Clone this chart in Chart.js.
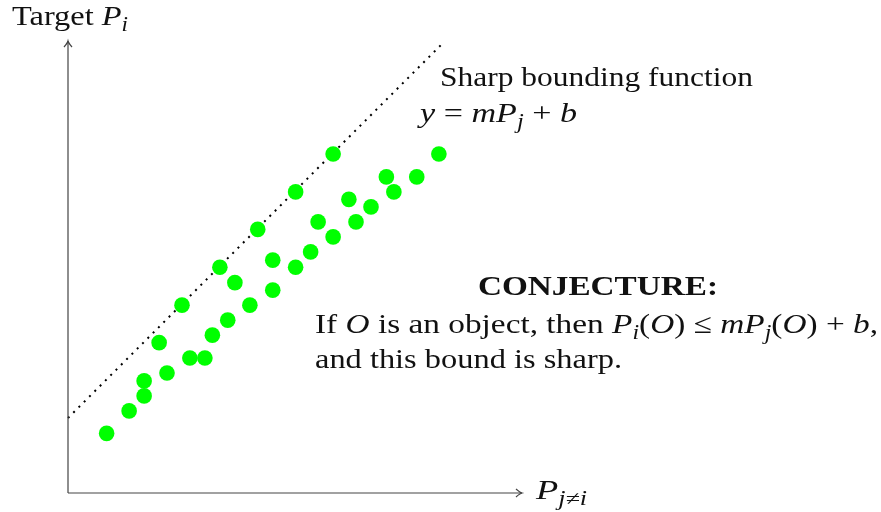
<!DOCTYPE html>
<html>
<head>
<meta charset="utf-8">
<script src="https://cdn.jsdelivr.net/npm/chart.js@4.4.1/dist/chart.umd.min.js"></script>
<style>
  html, body { margin: 0; padding: 0; background: #fff; }
  canvas { display: block; }
</style>
</head>
<body>
<canvas id="chart" width="881" height="512"></canvas>
<script>
// observed objects: P_j (x) against target P_i (y)
const pjValues = [1.03, 1.63, 2.03, 2.03, 2.43, 2.64, 3.04, 3.25, 3.65, 3.85,
                  4.05, 4.26, 4.45, 4.85, 5.06, 5.46, 5.46, 6.07, 6.07, 6.47,
                  6.67, 7.07, 7.07, 7.49, 7.68, 8.08, 8.49, 8.69, 9.30, 9.89];
const piValues = [1.59, 2.19, 2.59, 2.99, 4.01, 3.20, 5.01, 3.60, 3.60, 4.21,
                  6.02, 4.61, 5.61, 5.01, 7.03, 5.41, 6.21, 6.02, 8.03, 6.43,
                  7.23, 6.83, 9.04, 7.83, 7.23, 7.63, 8.43, 8.03, 8.43, 9.04];

// sharp bounding function y = mP_j + b
const boundX = [0, 10];
const boundY = [2, 12];

const axisMax = 12;

const serif = '"Liberation Serif", "DejaVu Serif", serif';
const fontSize = 28;

// draw a run of text pieces { t, it, bold, sub }, stretched to width w (LaTeX fonts run wider)
function drawRun(ctx, x, y, w, parts, align = 'left') {
    const fontFor = p => {
        const size = p.sub ? Math.round(fontSize * 0.7) : fontSize;
        return `${p.it ? 'italic ' : ''}${p.bold ? 'bold ' : ''}${size}px ${serif}`;
    };
    let total = 0;
    parts.forEach(p => { ctx.font = fontFor(p); total += ctx.measureText(p.t).width; });
    const sx = w ? w / total : 1;
    ctx.save();
    ctx.translate(align === 'center' ? x - total * sx / 2 : x, y);
    ctx.scale(sx, 1);
    let cx = 0;
    parts.forEach(p => {
        ctx.font = fontFor(p);
        ctx.fillText(p.t, cx, p.sub ? fontSize * 0.2 : 0);
        cx += ctx.measureText(p.t).width;
    });
    ctx.restore();
}

const annotate = {
    id: 'annotate',
    afterDraw(chart) {
        const { ctx, chartArea: a } = chart;
        ctx.save();

        // axes with arrow heads
        ctx.strokeStyle = '#444';
        ctx.lineWidth = 1.2;
        ctx.beginPath();
        ctx.moveTo(a.left, a.bottom);
        ctx.lineTo(a.left, a.top - 2);
        ctx.moveTo(a.left, a.bottom);
        ctx.lineTo(a.right + 4, a.bottom);
        ctx.stroke();
        ctx.beginPath();
        ctx.moveTo(a.left - 4, a.top + 4);
        ctx.quadraticCurveTo(a.left - 0.5, a.top, a.left, a.top - 2);
        ctx.quadraticCurveTo(a.left + 0.5, a.top, a.left + 4, a.top + 4);
        ctx.moveTo(a.right - 2, a.bottom - 4);
        ctx.quadraticCurveTo(a.right + 2, a.bottom - 0.5, a.right + 4, a.bottom);
        ctx.quadraticCurveTo(a.right + 2, a.bottom + 0.5, a.right - 2, a.bottom + 4);
        ctx.stroke();

        ctx.fillStyle = '#111';
        ctx.textBaseline = 'alphabetic';

        drawRun(ctx, 12, 25, 116, [
            { t: 'Target ' }, { t: 'P', it: true }, { t: 'i', it: true, sub: true }
        ]);
        drawRun(ctx, 536, 499, 51, [
            { t: 'P', it: true }, { t: 'j≠i', it: true, sub: true }
        ]);
        drawRun(ctx, 440, 86, 313, [{ t: 'Sharp bounding function' }]);
        drawRun(ctx, 420, 122, 157, [
            { t: 'y', it: true }, { t: ' = ' }, { t: 'mP', it: true },
            { t: 'j', it: true, sub: true }, { t: ' + ' }, { t: 'b', it: true }
        ]);
        drawRun(ctx, 598, 295, 240, [{ t: 'CONJECTURE:', bold: true }], 'center');
        drawRun(ctx, 315, 333, 563, [
            { t: 'If ' }, { t: 'O', it: true }, { t: ' is an object, then ' },
            { t: 'P', it: true }, { t: 'i', it: true, sub: true }, { t: '(' },
            { t: 'O', it: true }, { t: ') ≤ ' }, { t: 'mP', it: true },
            { t: 'j', it: true, sub: true }, { t: '(' }, { t: 'O', it: true },
            { t: ') + ' }, { t: 'b', it: true }, { t: ',' }
        ]);
        drawRun(ctx, 315, 368, 307, [{ t: 'and this bound is sharp.' }]);

        ctx.restore();
    }
};

new Chart(document.getElementById('chart'), {
    type: 'scatter',
    data: {
        datasets: [
            {
                data: pjValues.map((x, i) => ({ x, y: piValues[i] })),
                backgroundColor: '#00ff00',
                borderWidth: 0,
                pointRadius: 7.8,
                pointHoverRadius: 7.8,
                clip: false,
                order: 1,
            },
            {
                type: 'line',
                data: boundX.map((x, i) => ({ x, y: boundY[i] })),
                borderColor: '#000',
                borderWidth: 2,
                borderDash: [2, 5.5],
                pointRadius: 0,
                fill: false,
                clip: false,
                order: 2,
            },
        ],
    },
    options: {
        responsive: false,
        animation: false,
        layout: { padding: { left: 68, top: 43, right: 363, bottom: 19 } },
        plugins: { legend: { display: false }, tooltip: { enabled: false } },
        scales: {
            x: { type: 'linear', min: 0, max: axisMax, display: false },
            y: { type: 'linear', min: 0, max: axisMax, display: false },
        },
    },
    plugins: [annotate],
});
</script>
</body>
</html>
